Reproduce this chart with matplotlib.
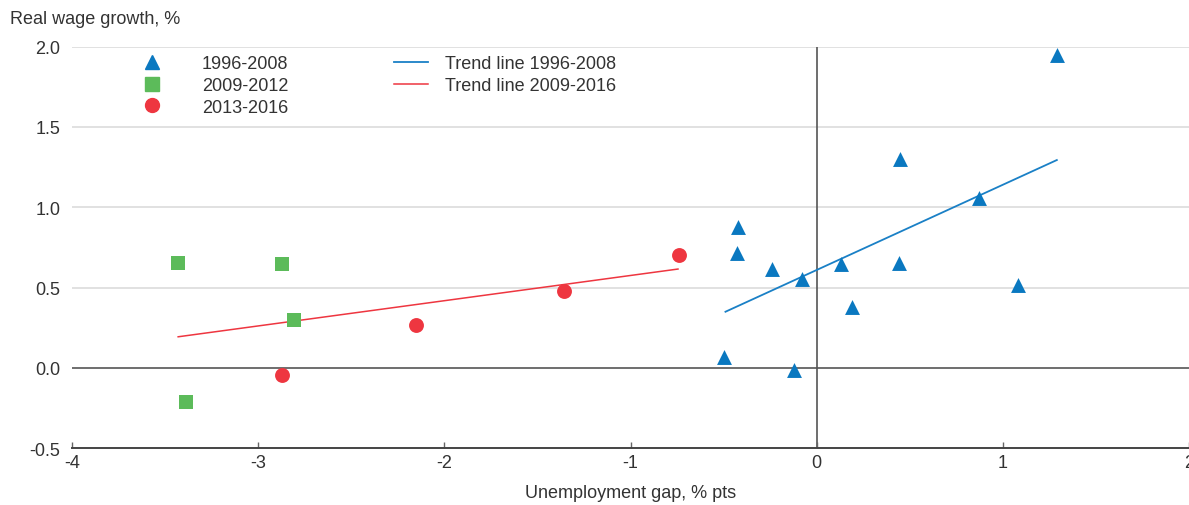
import numpy as np
import matplotlib.pyplot as plt
from matplotlib.lines import Line2D

plt.rcParams['font.family'] = ['Liberation Sans', 'DejaVu Sans']

# 1996-2008 observations (unemployment gap, real wage growth)
gap_9608 = [1.29, 0.45, 0.87, -0.42, -0.43, -0.24, -0.08, 0.13, 0.44, 0.19, 1.08, -0.50, -0.12]
wage_9608 = [1.95, 1.30, 1.06, 0.88, 0.715, 0.615, 0.553, 0.645, 0.65, 0.376, 0.515, 0.069, -0.014]

# 2009-2012 observations
gap_0912 = [-3.43, -2.87, -2.81, -3.39]
wage_0912 = [0.65, 0.644, 0.295, -0.216]

# 2013-2016 observations
gap_1316 = [-2.87, -2.15, -1.36, -0.74]
wage_1316 = [-0.045, 0.264, 0.477, 0.70]

# trend line end points
trend_9608_x = [-0.49, 1.29]
trend_9608_y = [0.349, 1.294]
trend_0916_x = [-3.43, -0.745]
trend_0916_y = [0.193, 0.615]

BLUE = '#0a78c0'
GREEN = '#5cbb5a'
RED = '#ee3640'
TEXT = '#333333'
FS = 13

fig = plt.figure(figsize=(11.89, 5.06), dpi=100)
ax = fig.add_axes([0.0606, 0.1126, 0.9394, 0.7931])

ax.set_xlim(-4, 2)
ax.set_ylim(-0.5, 2.0)

for y in [0.5, 1.0, 1.5, 2.0]:
    ax.axhline(y, color='#dcdcdc', lw=1.2, zorder=0)
ax.axhline(0, color='#555555', lw=1.2, zorder=1)
ax.axvline(0, color='#555555', lw=1.2, zorder=1)

ax.plot(trend_9608_x, trend_9608_y, color='#1a80c6', lw=1.3, zorder=2)
ax.plot(trend_0916_x, trend_0916_y, color=RED, lw=1.1, zorder=2)

ax.scatter(gap_9608, wage_9608, marker='^', s=115, color=BLUE, lw=0, zorder=3)
ax.scatter(gap_0912, wage_0912, marker='s', s=110, color=GREEN, lw=0, zorder=3)
ax.scatter(gap_1316, wage_1316, marker='o', s=115, color=RED, lw=0, zorder=3)

for side in ['left', 'right', 'top']:
    ax.spines[side].set_visible(False)
ax.spines['bottom'].set_color('#444444')
ax.spines['bottom'].set_linewidth(1.4)

ax.set_xticks([-4, -3, -2, -1, 0, 1, 2])
ax.set_xticklabels(['-4', '-3', '-2', '-1', '0', '1', '2'])
ax.set_yticks([-0.5, 0.0, 0.5, 1.0, 1.5, 2.0])
ax.set_yticklabels(['-0.5', '0.0', '0.5', '1.0', '1.5', '2.0'])
ax.tick_params(axis='x', direction='in', length=4, width=1, color='#666666',
               labelsize=FS, labelcolor=TEXT, pad=4)
ax.tick_params(axis='y', length=0, labelsize=FS, labelcolor=TEXT, pad=8.5)

ax.set_xlabel('Unemployment gap, % pts', fontsize=FS, color=TEXT, labelpad=10)
fig.text(10 / 1189, 1 - 20 / 506, 'Real wage growth, %', fontsize=FS, color=TEXT,
         ha='left', va='center')

# legend: markers in one block, trend lines in another
marker_handles = [
    Line2D([], [], ls='none', marker='^', ms=10, color=BLUE),
    Line2D([], [], ls='none', marker='s', ms=10, color=GREEN),
    Line2D([], [], ls='none', marker='o', ms=10, color=RED),
]
line_handles = [
    Line2D([], [], color='#1a80c6', lw=1.3),
    Line2D([], [], color=RED, lw=1.1),
]
leg1 = ax.legend(marker_handles, ['1996-2008', '2009-2012', '2013-2016'],
                 frameon=False, loc='upper left', fontsize=FS,
                 bbox_to_anchor=(135 / 1189, 1 - 56 / 506),
                 bbox_transform=fig.transFigure, borderpad=0, borderaxespad=0,
                 handlelength=1.9, handletextpad=1.8, labelspacing=0.27)
leg2 = ax.legend(line_handles, ['Trend line 1996-2008', 'Trend line 2009-2016'],
                 frameon=False, loc='upper left', fontsize=FS,
                 bbox_to_anchor=(394 / 1189, 1 - 56 / 506),
                 bbox_transform=fig.transFigure, borderpad=0, borderaxespad=0,
                 handlelength=1.9, handletextpad=0.95, labelspacing=0.27)
ax.add_artist(leg1)
for leg in (leg1, leg2):
    for t in leg.get_texts():
        t.set_color(TEXT)

fig.savefig('out.png', dpi=100)
